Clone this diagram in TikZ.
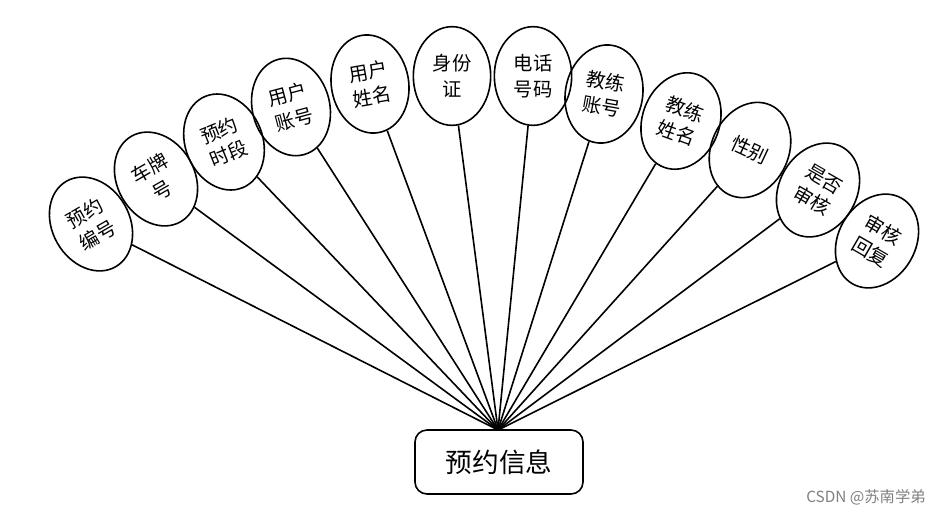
\documentclass[tikz,border=0pt]{standalone}
\usepackage{fontspec}
\newfontfamily\cjk{Noto Sans CJK SC}
\usetikzlibrary{shapes.geometric}

\begin{document}
\begin{tikzpicture}[x=0.75pt, y=-0.75pt, line width=1.2pt,
  attr/.style={draw, ellipse, inner sep=0pt, minimum width=58pt, minimum height=74pt,
    align=center, font=\cjk\fontsize{14.5}{19}\selectfont},
  entity/.style={draw, rounded corners=9pt, minimum width=126pt, minimum height=48pt,
    font=\cjk\fontsize{20}{24}\selectfont}]
  \useasboundingbox (0,0) rectangle (949,515);
  % 实体：预约信息
  \node[entity] (yy) at (499,462) {预约信息};
  \coordinate (hub) at (498,430);

  % 属性（左半）
  \node[attr, rotate=30] (bh) at (91,224) {预约\\编号};
  \node[attr, rotate=30] (cp) at (156,179) {车牌\\号};
  \node[attr, rotate=22] (sd) at (224,142) {预约\\时段};
  \node[attr, rotate=15] (yhzh) at (291,107) {用户\\账号};
  \node[attr, rotate=10] (yhxm) at (370,84) {用户\\姓名};
  \node[attr] (sfz) at (452,76) {身份\\证};
  % 属性（右半）
  \node[attr] (dh) at (533,76) {电话\\号码};
  \node[attr, rotate=-10] (jlzh) at (604,94) {教练\\账号};
  \node[attr, rotate=-20] (jlxm) at (681,121) {教练\\姓名};
  \node[attr, rotate=-25] (xb) at (750,150) {性别};
  \node[attr, rotate=-30] (sh) at (818,190) {是否\\审核};
  \node[attr, rotate=-30] (hf) at (877,241) {审核\\回复};

  % 连线
  \foreach \a in {bh,cp,sd,yhzh,yhxm,sfz,dh,jlzh,jlxm,xb,sh,hf}
    \draw (hub) -- (\a);

  \node[text=gray, font=\cjk\fontsize{11.5}{14}\selectfont] (csdn) at (866,497) {CSDN @苏南学弟};
\end{tikzpicture}
\end{document}
